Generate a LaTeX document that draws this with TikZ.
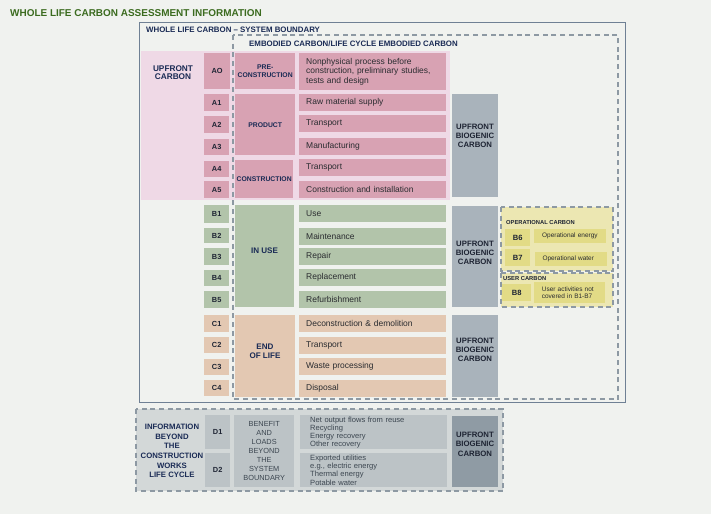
\documentclass[tikz,border=0pt]{standalone}
\usepackage{fontspec}
\setmainfont{Liberation Sans}
\definecolor{bgc}{HTML}{F0F2EF}
\definecolor{titlec}{HTML}{3B6B1F}
\definecolor{navy}{HTML}{1A2B55}
\definecolor{labtxt}{HTML}{1E2433}
\definecolor{desctxt}{HTML}{2A2C30}
\definecolor{sysline}{HTML}{6F8094}
\definecolor{dashc}{HTML}{8D99A3}
\definecolor{pinkbg}{HTML}{EFD9E6}
\definecolor{pinkbox}{HTML}{D8A2B3}
\definecolor{greenbox}{HTML}{B2C4AA}
\definecolor{tanbox}{HTML}{E3C8B2}
\definecolor{graybox}{HTML}{A9B3BB}
\definecolor{ylight}{HTML}{ECE7B2}
\definecolor{ydark}{HTML}{E2DB86}
\definecolor{botbg}{HTML}{D3D8D8}
\definecolor{botbox}{HTML}{BCC3C6}
\definecolor{botdark}{HTML}{8F9BA4}
\definecolor{bentxt}{HTML}{3C4650}
\newcommand\fsz[2]{\fontsize{#1}{#2}\selectfont}
\newcommand\bx[7]{%
  \pgfmathsetmacro\bxw{#5-#3}\pgfmathsetmacro\bxh{#6-#4}%
  \node[#1, anchor=north west, minimum width=\bxw bp, minimum height=\bxh bp] (#2) at (#3,#4) {#7};}
\newcommand\dx[8]{%
  \pgfmathsetmacro\bxw{#5-#3-2*#8}\pgfmathsetmacro\bxh{#6-#4}%
  \node[#1, anchor=north west, text width=\bxw bp, minimum height=\bxh bp, inner xsep=#8bp, align=left] (#2) at (#3,#4) {#7};}
\tikzset{
  box/.style={rectangle, inner sep=0pt, draw=none},
  lab/.style={box, font=\bfseries\fsz{7.4}{8}, text=labtxt, align=center},
  phase/.style={box, font=\bfseries\fsz{6.85}{8.2}, text=navy, align=center},
  desc/.style={box, font=\fsz{8.5}{9.8}, text=desctxt},
  biotxt/.style={inner sep=0pt, font=\bfseries\fsz{7.8}{9.2}, text=labtxt, align=center},
  dashbox/.style={draw=dashc, line width=1.6bp, dash pattern=on 5bp off 3.7bp},
  ylab/.style={box, font=\bfseries\fsz{7.6}{8}, text=labtxt, align=center, fill=ydark},
  ydesc/.style={box, font=\fsz{6.5}{7.4}, text=desctxt, fill=ydark},
  head/.style={inner sep=0pt, anchor=west, font=\bfseries\fsz{7.9}{8}, text=navy},
}
\begin{document}
\begin{tikzpicture}[x=1bp,y=-1bp]
\path[fill=bgc] (0,0) rectangle (711,514);
\useasboundingbox (0,0) rectangle (711,514);
% title
\node[inner sep=0pt, anchor=west, font=\bfseries\fsz{10}{11}, text=titlec] (title) at (10,13) {WHOLE LIFE CARBON ASSESSMENT INFORMATION};
% system boundary
\draw[sysline, line width=0.8bp] (139,22) rectangle (625,402);
\node[head] (sbl) at (146,30) {WHOLE LIFE CARBON -- SYSTEM BOUNDARY};
% upfront background
\bx{box, fill=pinkbg}{upbg}{141}{51}{450}{200}{}
\node[inner sep=0pt, font=\bfseries\fsz{8.3}{8.7}, text=navy, align=center] (upl) at (173,72.7) {UPFRONT\\CARBON};
% A column
\bx{lab, fill=pinkbox}{a0}{204}{53}{230}{89}{AO}
\bx{lab, fill=pinkbox}{a1}{204}{94}{229}{111}{A1}
\bx{lab, fill=pinkbox}{a2}{204}{116}{229}{133}{A2}
\bx{lab, fill=pinkbox}{a3}{204}{139}{229}{155}{A3}
\bx{lab, fill=pinkbox}{a4}{204}{161}{229}{177}{A4}
\bx{lab, fill=pinkbox}{a5}{204}{181}{229}{198}{A5}
% phases
\bx{phase, fill=pinkbox}{pre}{235}{53}{295}{89}{PRE-\\CONSTRUCTION}
\bx{phase, fill=pinkbox}{prod}{235}{94}{295}{155}{PRODUCT}
\bx{phase, fill=pinkbox}{cons}{235}{160}{293}{198}{CONSTRUCTION}
% descriptions A
\dx{desc, fill=pinkbox}{d0}{299}{53}{446}{90}{Nonphysical process before\\construction, preliminary studies,\\tests and design}{7}
\dx{desc, fill=pinkbox}{d1}{299}{94}{446}{111}{Raw material supply}{7}
\dx{desc, fill=pinkbox}{d2}{299}{115}{446}{132}{Transport}{7}
\dx{desc, fill=pinkbox}{d3}{299}{138}{446}{155}{Manufacturing}{7}
\dx{desc, fill=pinkbox}{d4}{299}{159}{446}{176}{Transport}{7}
\dx{desc, fill=pinkbox}{d5}{299}{181}{446}{198}{Construction and installation}{7}
\bx{box, fill=graybox}{bio1}{452}{94}{498}{197}{}
\node[biotxt] (bio1t) at (475,136) {UPFRONT\\BIOGENIC\\CARBON};
% B column
\bx{lab, fill=greenbox}{b1}{204}{205}{229}{223}{B1}
\bx{lab, fill=greenbox}{b2}{204}{228}{229}{243}{B2}
\bx{lab, fill=greenbox}{b3}{204}{248}{229}{265}{B3}
\bx{lab, fill=greenbox}{b4}{204}{270}{229}{286}{B4}
\bx{lab, fill=greenbox}{b5}{204}{291}{229}{308}{B5}
\bx{box, fill=greenbox}{inuse}{235}{205}{294}{307}{}
\node[inner sep=0pt, font=\bfseries\fsz{8.1}{9}, text=navy, align=center] (inuset) at (264.5,251) {IN USE};
\dx{desc, fill=greenbox}{e1}{299}{205}{446}{222}{Use}{7}
\dx{desc, fill=greenbox}{e2}{299}{228}{446}{245}{Maintenance}{7}
\dx{desc, fill=greenbox}{e3}{299}{248}{446}{265}{Repair}{7}
\dx{desc, fill=greenbox}{e4}{299}{269}{446}{286}{Replacement}{7}
\dx{desc, fill=greenbox}{e5}{299}{291}{446}{308}{Refurbishment}{7}
\bx{box, fill=graybox}{bio2}{452}{206}{498}{307}{}
\node[biotxt] (bio2t) at (475,252.6) {UPFRONT\\BIOGENIC\\CARBON};
% C column
\bx{lab, fill=tanbox}{c1}{204}{315}{229}{332}{C1}
\bx{lab, fill=tanbox}{c2}{204}{337}{229}{353}{C2}
\bx{lab, fill=tanbox}{c3}{204}{359}{229}{375}{C3}
\bx{lab, fill=tanbox}{c4}{204}{380}{229}{396}{C4}
\bx{box, fill=tanbox}{eol}{235}{315}{295}{397}{}
\node[inner sep=0pt, font=\bfseries\fsz{8.1}{9}, text=navy, align=center] (eolt) at (265,350.8) {END\\OF LIFE};
\dx{desc, fill=tanbox}{f1}{299}{315}{446}{332}{Deconstruction \& demolition}{7}
\dx{desc, fill=tanbox}{f2}{299}{337}{446}{354}{Transport}{7}
\dx{desc, fill=tanbox}{f3}{299}{358}{446}{375}{Waste processing}{7}
\dx{desc, fill=tanbox}{f4}{299}{380}{446}{397}{Disposal}{7}
\bx{box, fill=graybox}{bio3}{452}{315}{498}{397}{}
\node[biotxt] (bio3t) at (475,349.6) {UPFRONT\\BIOGENIC\\CARBON};
% operational / user carbon
\draw[dashbox, fill=ylight] (501,207) rectangle (613,271);
\node[inner sep=0pt, anchor=west, font=\bfseries\fsz{5.8}{6}, text=labtxt] (opl) at (506,223) {OPERATIONAL CARBON};
\bx{ylab}{b6}{505}{229}{530}{246}{B6}
\dx{ydesc}{oe}{534}{229}{606}{243}{Operational energy}{8}
\bx{ylab}{b7}{505}{249}{530}{266}{B7}
\dx{ydesc}{ow}{535}{252}{607}{266}{Operational water}{7.3}
\draw[dashbox, fill=ylight] (501,273) rectangle (613,307);
\node[inner sep=0pt, anchor=west, font=\bfseries\fsz{5.8}{6}, text=labtxt] (usl) at (503,279) {USER CARBON};
\bx{ylab}{b8}{502}{284}{531}{301}{B8}
\dx{ydesc}{ua}{534}{282}{605}{303}{User activities not\\covered in B1-B7}{7.7}
% embodied carbon dashed boundary
\draw[dashbox] (233,35) rectangle (618,399);
\node[head] (embl) at (249,44) {EMBODIED CARBON/LIFE CYCLE EMBODIED CARBON};
% bottom section D
\draw[dashbox, fill=botbg] (136,409) rectangle (503,491);
\node[inner sep=0pt, font=\bfseries\fsz{7.8}{9.7}, text=navy, align=center] (infot) at (172,451) {INFORMATION\\BEYOND\\THE\\CONSTRUCTION\\WORKS\\LIFE CYCLE};
\bx{lab, fill=botbox}{dd1}{205}{415}{230}{449}{D1}
\bx{lab, fill=botbox}{dd2}{205}{453}{230}{487}{D2}
\bx{box, fill=botbox, font=\fsz{7.4}{9.1}, text=bentxt, align=center}{ben}{234}{415}{294}{487}{BENEFIT\\AND\\LOADS\\BEYOND\\THE\\SYSTEM\\BOUNDARY}
\dx{box, fill=botbox, font=\fsz{7.6}{8.1}, text=bentxt}{net}{300}{415}{447}{449}{Net output flows from reuse\\Recycling\\Energy recovery\\Other recovery}{10}
\dx{box, fill=botbox, font=\fsz{7.6}{8.1}, text=bentxt}{exp}{300}{453}{447}{487}{Exported utilities\\e.g., electric energy\\Thermal energy\\Potable water}{10}
\bx{box, fill=botdark}{bio4}{452}{416}{498}{487}{}
\node[biotxt] (bio4t) at (475,444.3) {UPFRONT\\BIOGENIC\\CARBON};
\end{tikzpicture}
\end{document}
